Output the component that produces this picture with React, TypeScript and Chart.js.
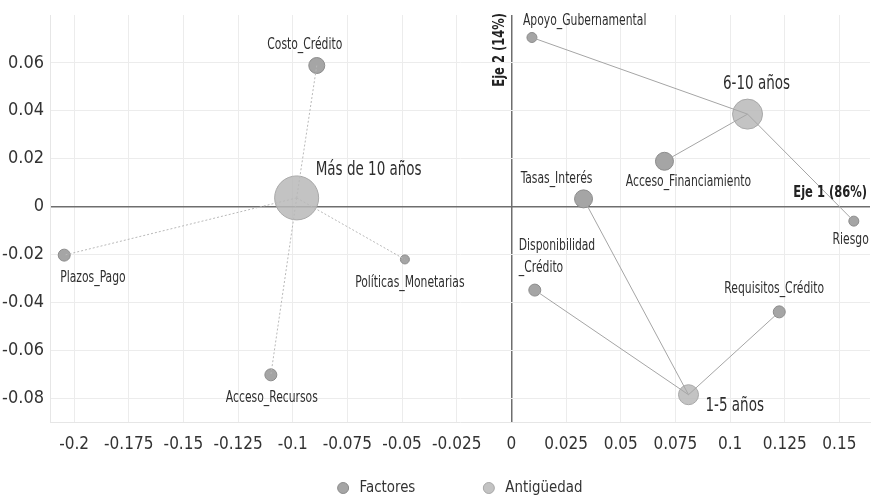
import React, { useEffect, useRef } from "react";
import { Chart, registerables } from "chart.js";

Chart.register(...registerables);

const factorNames = [
  "Costo_Crédito",
  "Plazos_Pago",
  "Políticas_Monetarias",
  "Acceso_Recursos",
  "Apoyo_Gubernamental",
  "Acceso_Financiamiento",
  "Riesgo",
  "Tasas_Interés",
  "Disponibilidad\n_Crédito",
  "Requisitos_Crédito",
];
const factorX = [-0.089, -0.2045, -0.0487, -0.11, 0.0094, 0.07, 0.1566, 0.033, 0.0107, 0.1225];
const factorY = [0.0589, -0.0203, -0.0221, -0.0703, 0.0706, 0.0189, -0.0061, 0.0032, -0.0349, -0.044];
const factorWeight = [8, 6, 4.5, 6, 5, 9, 5, 9, 6, 6];

const groupNames = ["Más de 10 años", "6-10 años", "1-5 años"];
const groupX = [-0.0982, 0.108, 0.081];
const groupY = [0.0036, 0.0386, -0.0786];
const groupWeight = [22, 15, 10];
const groupLinks = [
  [0, 1, 2, 3],
  [4, 5, 6],
  [7, 8, 9],
];

const seriesNames = ["Factores", "Antigüedad"];
const xTickValues = [-0.2, -0.175, -0.15, -0.125, -0.1, -0.075, -0.05, -0.025, 0, 0.025, 0.05, 0.075, 0.1, 0.125, 0.15];
const yTickValues = [-0.08, -0.06, -0.04, -0.02, 0, 0.02, 0.04, 0.06];

const FONT = "'DejaVu Sans Condensed', 'DejaVu Sans', sans-serif";

const factorLabelStyle: { dx: number; dy: number; align: CanvasTextAlign }[] = [
  { dx: -12, dy: -20, align: "center" },
  { dx: -4, dy: 23, align: "left" },
  { dx: 5, dy: 24, align: "center" },
  { dx: 1, dy: 23, align: "center" },
  { dx: -9, dy: -16, align: "left" },
  { dx: 24, dy: 21, align: "center" },
  { dx: 15, dy: 19, align: "right" },
  { dx: -27, dy: -20, align: "center" },
  { dx: -16, dy: -44, align: "left" },
  { dx: -5, dy: -23, align: "center" },
];
const groupLabelStyle: { dx: number; dy: number; align: CanvasTextAlign }[] = [
  { dx: 19, dy: -28, align: "left" },
  { dx: 9, dy: -30, align: "center" },
  { dx: 17, dy: 11, align: "left" },
];

function narrowText(ctx: CanvasRenderingContext2D, text: string, x: number, y: number, align: CanvasTextAlign, sx: number) {
  ctx.save();
  ctx.translate(x, y);
  ctx.scale(sx, 1);
  ctx.textAlign = align;
  ctx.fillText(text, 0, 0);
  ctx.restore();
}

const labelPlugin = {
  id: "pointLabels",
  afterDatasetsDraw(chart: any) {
    const { ctx, scales } = chart;
    const xs = scales.x;
    const ys = scales.y;
    ctx.save();
    ctx.fillStyle = "#2e2e2e";
    ctx.textBaseline = "middle";
    ctx.font = `15px ${FONT}`;
    factorNames.forEach((name, i) => {
      const px = xs.getPixelForValue(factorX[i]);
      const py = ys.getPixelForValue(factorY[i]);
      const st = factorLabelStyle[i];
      name.split("\n").forEach((line, k) => {
        narrowText(ctx, line, px + st.dx, py + st.dy + k * 22, st.align, 0.8);
      });
    });
    ctx.font = `20px ${FONT}`;
    groupNames.forEach((name, i) => {
      const px = xs.getPixelForValue(groupX[i]);
      const py = ys.getPixelForValue(groupY[i]);
      const st = groupLabelStyle[i];
      narrowText(ctx, name, px + st.dx, py + st.dy, st.align, 0.75);
    });
    const zx = xs.getPixelForValue(0);
    const zy = ys.getPixelForValue(0);
    ctx.font = `bold 16px ${FONT}`;
    ctx.fillStyle = "#222";
    narrowText(ctx, "Eje 1 (86%)", chart.chartArea.right - 3, zy - 14, "right", 0.8);
    ctx.save();
    ctx.translate(zx - 12, chart.chartArea.top - 2);
    ctx.rotate(-Math.PI / 2);
    narrowText(ctx, "Eje 2 (14%)", 0, 0, "right", 0.8);
    ctx.restore();

    // legend
    const ca = chart.chartArea;
    const cy = ca.bottom + 66;
    ctx.font = `16px ${FONT}`;
    const sx = 0.93;
    const gap = 68;
    const items = seriesNames.map((name, i) => {
      const ds = chart.data.datasets[i];
      const w = 22 + ctx.measureText(name).width * sx;
      return { name, w, fill: ds.backgroundColor, stroke: ds.borderColor };
    });
    const total = items.reduce((s, it) => s + it.w, 0) + gap * (items.length - 1);
    let x = (ca.left + ca.right) / 2 - total / 2;
    items.forEach((it) => {
      ctx.beginPath();
      ctx.arc(x + 5.5, cy, 5.5, 0, Math.PI * 2);
      ctx.fillStyle = it.fill;
      ctx.fill();
      ctx.strokeStyle = it.stroke;
      ctx.lineWidth = 1;
      ctx.stroke();
      ctx.fillStyle = "#333";
      narrowText(ctx, it.name, x + 22, cy, "left", sx);
      x += it.w + gap;
    });
    ctx.restore();
  },
};

export default function App() {
  const ref = useRef<HTMLCanvasElement>(null);
  useEffect(() => {
    document.body.style.margin = "0";
    const lineSets: any[] = [];
    groupLinks.forEach((links, g) => {
      links.forEach((fi) => {
        lineSets.push({
          type: "scatter",
          label: "_link",
          data: [
            { x: groupX[g], y: groupY[g] },
            { x: factorX[fi], y: factorY[fi] },
          ],
          showLine: true,
          borderColor: g === 0 ? "#b8b8b8" : "#a5a5a5",
          borderDash: g === 0 ? [2, 2] : [],
          borderWidth: 1,
          pointRadius: 0,
          order: 0,
        });
      });
    });
    const gridColor = (c: any) => (c.tick && c.tick.value === 0 ? "#6e6e6e" : "#ececec");
    const gridWidth = (c: any) => (c.tick && c.tick.value === 0 ? 1.5 : 1);
    const chart = new Chart(ref.current!, {
      type: "scatter",
      data: {
        datasets: [
          {
            label: seriesNames[0],
            data: factorX.map((x, i) => ({ x, y: factorY[i] })),
            pointRadius: factorWeight,
            pointHoverRadius: factorWeight,
            backgroundColor: "#a5a5a5",
            borderColor: "#8c8c8c",
            borderWidth: 1,
            order: 2,
          },
          {
            label: seriesNames[1],
            data: groupX.map((x, i) => ({ x, y: groupY[i] })),
            pointRadius: groupWeight,
            pointHoverRadius: groupWeight,
            backgroundColor: "rgba(185,185,185,0.85)",
            borderColor: "#a8a8a8",
            borderWidth: 1,
            order: 1,
          },
          ...lineSets,
        ],
      },
      options: {
        animation: false,
        responsive: false,
        maintainAspectRatio: false,
        layout: { autoPadding: false, padding: { top: 15, right: 2, left: 0, bottom: 33 } },
        plugins: {
          tooltip: { enabled: false },
          legend: { display: false },
        },
        scales: {
          x: {
            type: "linear",
            min: -0.211,
            max: 0.164,
            afterBuildTicks: (s: any) => {
              s.ticks = xTickValues.map((v) => ({ value: v }));
            },
            afterFit: (s: any) => {
              s.height = 44;
              s.paddingLeft = 0;
              s.paddingRight = 0;
            },
            ticks: {
              callback: (v: any) => String(v),
              color: "#333",
              font: { family: FONT, size: 17 },
              padding: 12,
              maxRotation: 0,
              autoSkip: false,
            },
            grid: { drawTicks: false, color: gridColor, lineWidth: gridWidth },
            border: { display: true, color: "#e6e6e6" },
          },
          y: {
            type: "linear",
            min: -0.09,
            max: 0.08,
            afterBuildTicks: (s: any) => {
              s.ticks = yTickValues.map((v) => ({ value: v }));
            },
            afterFit: (s: any) => {
              s.width = 50;
              s.paddingTop = 0;
              s.paddingBottom = 0;
            },
            ticks: {
              callback: (v: any) => String(v),
              color: "#333",
              font: { family: FONT, size: 18 },
              padding: 6,
              autoSkip: false,
            },
            grid: { drawTicks: false, color: gridColor, lineWidth: gridWidth },
            border: { display: true, color: "#e6e6e6" },
          },
        },
      } as any,
      plugins: [labelPlugin],
    });
    return () => chart.destroy();
  }, []);
  return (
    <div style={{ width: 872, height: 499 }}>
      <canvas ref={ref} width={872} height={499} style={{ width: 872, height: 499, display: "block" }} />
    </div>
  );
}
